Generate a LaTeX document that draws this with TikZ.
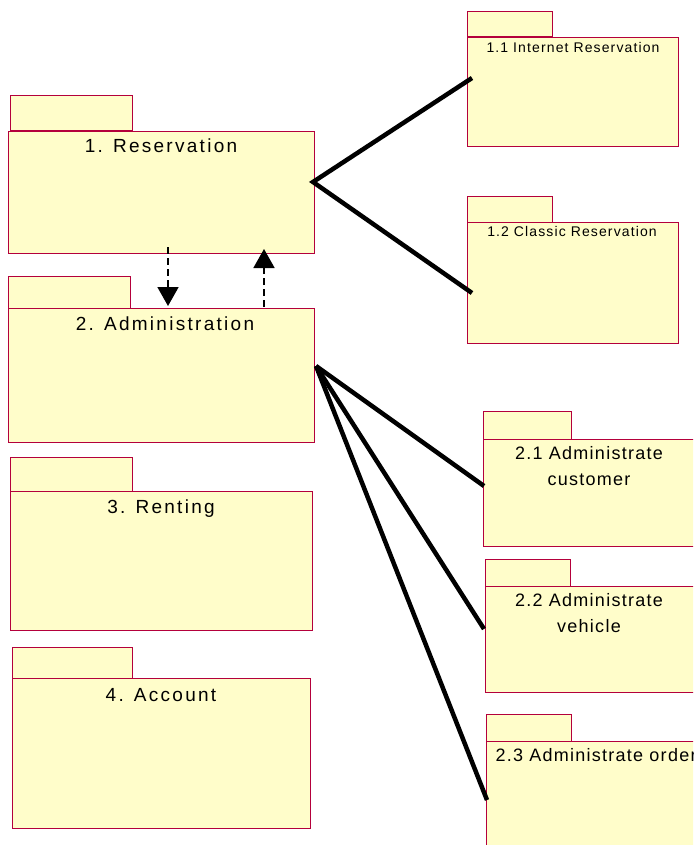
\documentclass[tikz,border=0pt]{standalone}
\usepackage{fontspec}
\setmainfont{Liberation Sans}
\newfontfamily\pkgfont{Liberation Sans}[LetterSpace=12]
\newfontfamily\subpkgfont{Liberation Sans}[LetterSpace=7]
\newfontfamily\smallpkgfont{Liberation Sans}[LetterSpace=8]
\usetikzlibrary{arrows.meta, positioning, calc}
\definecolor{pkgfill}{HTML}{FFFDCA}
\definecolor{pkgline}{HTML}{B4003C}

\begin{document}
\begin{tikzpicture}[x=1pt, y=-1pt,
    pkg/.style={draw=pkgline, fill=pkgfill, line width=1pt},
    body/.style={pkg, anchor=north west, inner sep=0pt},
    title/.style={anchor=base, font=\pkgfont\fontsize{19}{22}\selectfont},
    subtitle/.style={anchor=base, align=center, font=\subpkgfont\fontsize{18}{26}\selectfont},
    smalltitle/.style={anchor=base, font=\smallpkgfont\fontsize{14}{16}\selectfont},
    link/.style={line width=4.5pt, line join=miter},
    dep/.style={line width=1.8pt, dash pattern=on 7pt off 4pt, -{Triangle[width=21pt,length=19pt]}}]
    \useasboundingbox (0,0) rectangle (693,845);
    \clip (0,0) rectangle (693,845);

    % main packages
    \draw[pkg] (10,96) rectangle (132,131);
    \node[body, minimum width=306, minimum height=122] (res) at (8,131) {};
    \node[title] (reslbl) at (161,153) {1. Reservation};

    \draw[pkg] (8,276) rectangle (130,308);
    \node[body, minimum width=306, minimum height=134] (adm) at (8,308) {};
    \node[title] (admlbl) at (165,330) {2. Administration};

    \draw[pkg] (10,457) rectangle (132,491);
    \node[body, minimum width=302, minimum height=139] (rent) at (10,491) {};
    \node[title] (rentlbl) at (161,513) {3. Renting};

    \draw[pkg] (12,647) rectangle (132,678);
    \node[body, minimum width=298, minimum height=150] (acc) at (12,678) {};
    \node[title] (acclbl) at (161,701) {4. Account};

    % sub packages of 1
    \draw[pkg] (467,12) rectangle (552,37);
    \node[body, minimum width=211, minimum height=109] (inet) at (467,37) {};
    \node[smalltitle] (inetlbl) at (573,53) {1.1 Internet Reservation};

    \draw[pkg] (467,196) rectangle (552,222);
    \node[body, minimum width=211, minimum height=121] (classic) at (467,222) {};
    \node[smalltitle] (classiclbl) at (572,236) {1.2 Classic Reservation};

    % sub packages of 2
    \draw[pkg] (483,411) rectangle (571,439);
    \node[body, minimum width=214, minimum height=107] (cust) at (483,439) {};
    \node[subtitle] (custlbl) at (589,485) {2.1 Administrate\\customer};

    \draw[pkg] (485,559) rectangle (570,586);
    \node[body, minimum width=212, minimum height=106] (veh) at (485,586) {};
    \node[subtitle] (vehlbl) at (589,632) {2.2 Administrate\\vehicle};

    \draw[pkg] (486,714) rectangle (571,741);
    \node[body, minimum width=212, minimum height=120] (ord) at (486,741) {};
    \node[subtitle, anchor=base west] (ordlbl) at (492,761) {2.3 Administrate order};

    % links
    \coordinate (reshub) at (313,182);
    \coordinate (inetend) at (472,78);
    \coordinate (classicend) at (472,293);
    \draw[link] (inetend) -- (reshub) -- (classicend);

    \coordinate (admhub) at (316,366);
    \coordinate (custend) at (484,486);
    \coordinate (vehend) at (484,629);
    \coordinate (ordend) at (487,800);
    \draw[link] (admhub) -- (custend);
    \draw[link] (admhub) -- (vehend);
    \draw[link] (admhub) -- (ordend);

    % dependencies
    \coordinate (resout) at (168,247);
    \coordinate (admin) at (168,306);
    \coordinate (admout) at (264,307);
    \coordinate (resin) at (264,249);
    \draw[dep] (resout) -- (admin);
    \draw[dep] (admout) -- (resin);
\end{tikzpicture}
\end{document}
